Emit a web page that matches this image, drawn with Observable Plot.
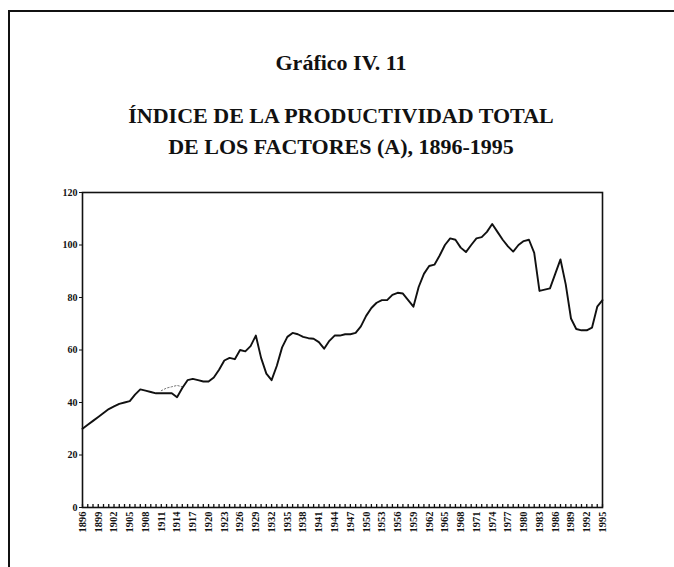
<!DOCTYPE html>
<html><head><meta charset="utf-8">
<script src="https://cdn.jsdelivr.net/npm/d3@7"></script>
<script src="https://cdn.jsdelivr.net/npm/@observablehq/plot@0.6"></script>
<style>
body{margin:0;background:#fff;}
#page{position:relative;width:674px;height:567px;overflow:hidden;font-family:"Liberation Serif","DejaVu Serif",serif;background:#fff;}
#border{position:absolute;left:8px;top:10px;width:700px;height:600px;border-top:2px solid #111;border-left:2px solid #111;}
.t{position:absolute;left:0;width:682px;text-align:center;font-weight:bold;color:#111;}
#g{top:50px;font-size:22px;line-height:25px;}
#t1{top:100px;font-size:22px;line-height:31px;}
#chart{position:absolute;left:0;top:180px;}
</style></head><body>
<div id="page"><div id="border"></div>
<div class="t" id="g">Gráfico IV. 11</div>
<div class="t" id="t1">ÍNDICE DE LA PRODUCTIVIDAD TOTAL<br>DE LOS FACTORES (A), 1896-1995</div>
<div id="chart"></div></div>
<script>
const years = [1896,1897,1898,1899,1900,1901,1902,1903,1904,1905,1906,1907,1908,1909,1910,1911,1912,1913,1914,1915,1916,1917,1918,1919,1920,1921,1922,1923,1924,1925,1926,1927,1928,1929,1930,1931,1932,1933,1934,1935,1936,1937,1938,1939,1940,1941,1942,1943,1944,1945,1946,1947,1948,1949,1950,1951,1952,1953,1954,1955,1956,1957,1958,1959,1960,1961,1962,1963,1964,1965,1966,1967,1968,1969,1970,1971,1972,1973,1974,1975,1976,1977,1978,1979,1980,1981,1982,1983,1984,1985,1986,1987,1988,1989,1990,1991,1992,1993,1994,1995];
const tfp = [30,31.5,33,34.5,36,37.5,38.5,39.5,40,40.5,43,45,44.5,44,43.5,43.5,43.5,43.5,42,45.5,48.5,49,48.5,48,48,49.5,52.5,56,57,56.5,60,59.5,61.5,65.5,57,51,48.5,54,61,65,66.5,66,65,64.5,64.3,63,60.5,63.5,65.5,65.5,66,66,66.5,69,73,76,78,79,79,81,81.8,81.5,79,76.5,84,89,92,92.5,96,100,102.5,102,99,97.3,100,102.5,103,105,108,105,102,99.5,97.5,100,101.5,102,97,82.5,83,83.5,89,94.5,85,72,68,67.5,67.5,68.5,76.5,79];
const altYears = [1911,1912,1913,1914,1915];
const altValues = [44.5,45.5,46,46.5,46];
const yTicks = [0,20,40,60,80,100,120];
const xLabels = [1896,1899,1902,1905,1908,1911,1914,1917,1920,1923,1926,1929,1932,1935,1938,1941,1944,1947,1950,1953,1956,1959,1962,1965,1968,1971,1974,1977,1980,1983,1986,1989,1992,1995];

const data = years.map((y,i)=>({year:y, value:tfp[i]}));
const alt = altYears.map((y,i)=>({year:y, value:altValues[i]}));

const chart = Plot.plot({
  width: 674, height: 367,
  marginTop: 12, marginLeft: 82, marginRight: 72, marginBottom: 40,
  style: {fontFamily: "Liberation Serif, serif", color: "#111", background: "transparent"},
  x: {domain: [1896, 1995]},
  y: {domain: [0, 120]},
  marks: [
    Plot.frame({stroke: "#111", strokeWidth: 1.6}),
    Plot.axisY({ticks: yTicks, tickSize: 3, fontSize: 10, fontWeight: "bold", label: null, tickPadding: 2}),
    Plot.axisX({ticks: years, tickSize: 3, dy: -3, tickFormat: () => "", label: null, strokeWidth: 1.3}),
    Plot.axisX({ticks: xLabels, tickSize: 0, tickRotate: -90, tickFormat: d => String(d), fontSize: 10.5, fontWeight: "bold", label: null, tickPadding: 4}),
    Plot.line(alt, {x: "year", y: "value", stroke: "#777", strokeWidth: 1, strokeDasharray: "1.5,2"}),
    Plot.line(data, {x: "year", y: "value", stroke: "#111", strokeWidth: 1.9})
  ]
});
document.getElementById("chart").appendChild(chart);
</script>
</body></html>
